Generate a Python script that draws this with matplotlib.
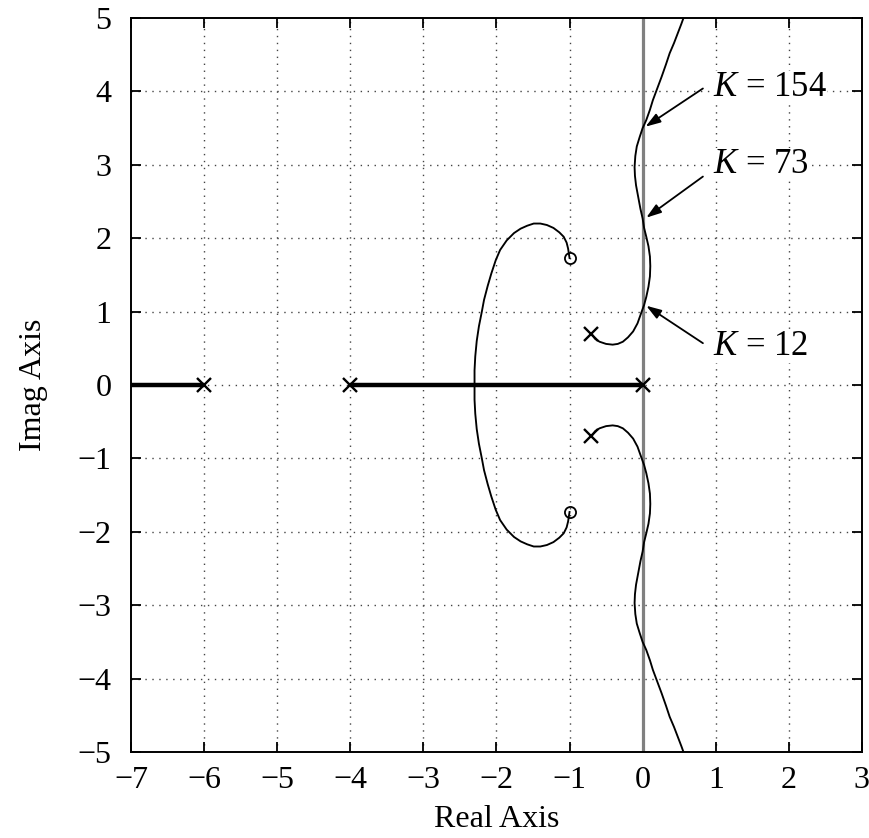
import matplotlib
matplotlib.use("Agg")
import matplotlib.pyplot as plt
import numpy as np

plt.rcParams['font.family'] = ['Liberation Serif', 'DejaVu Serif']
plt.rcParams['mathtext.fontset'] = 'custom'
plt.rcParams['mathtext.rm'] = 'Liberation Serif'
plt.rcParams['mathtext.it'] = 'Liberation Serif:italic'

# ---- data ----
pole_re = [0.0, -4.0, -6.0, -0.7, -0.7]
pole_im = [0.0, 0.0, 0.0, 0.70, -0.70]
zero_re = [-1.0, -1.0]
zero_im = [1.73, -1.73]

# real-axis locus segments
seg_left_re = [-7.0, -6.0]
seg_mid_re = [-4.0, 0.0]

# branch from real-axis breakaway to the zero (upper half)
loop_re = [-2.30, -2.30, -2.29, -2.27, -2.24, -2.20, -2.17, -2.12, -2.07, -2.01,
           -1.95, -1.86, -1.76, -1.67, -1.58, -1.49, -1.40, -1.31, -1.22, -1.14,
           -1.08, -1.04, -1.02, -1.00]
loop_im = [0.00, 0.20, 0.39, 0.60, 0.80, 1.00, 1.16, 1.35, 1.52, 1.70,
           1.84, 1.97, 2.07, 2.13, 2.17, 2.20, 2.20, 2.18, 2.14, 2.08,
           2.02, 1.94, 1.86, 1.73]

# branch from complex pole to asymptote (upper half)
branch_re = [-0.70, -0.65, -0.59, -0.50, -0.41, -0.34, -0.27, -0.20, -0.13, -0.07,
             -0.02, 0.02, 0.05, 0.08, 0.10, 0.105, 0.10, 0.08, 0.05, 0.02,
             0.00, -0.03, -0.06, -0.09, -0.105, -0.11, -0.10, -0.08, -0.04, 0.00,
             0.05, 0.10, 0.14, 0.20, 0.26, 0.32, 0.37, 0.43, 0.48, 0.53, 0.57]
branch_im = [0.70, 0.63, 0.59, 0.56, 0.55, 0.56, 0.59, 0.65, 0.73, 0.84,
             0.98, 1.09, 1.20, 1.34, 1.48, 1.62, 1.75, 1.89, 2.02, 2.14,
             2.27, 2.40, 2.56, 2.72, 2.85, 2.97, 3.12, 3.25, 3.38, 3.50,
             3.61, 3.75, 3.88, 4.04, 4.20, 4.37, 4.52, 4.66, 4.79, 4.92, 5.03]

gain_labels = ["$K$ = 154", "$K$ = 73", "$K$ = 12"]
gain_points_re = [0.04, 0.05, 0.05]
gain_points_im = [3.52, 2.28, 1.08]
gain_text_re = [0.96, 0.96, 0.96]
gain_text_im = [4.05, 3.00, 0.52]
gain_tail_re = [0.825, 0.825, 0.825]
gain_tail_im = [4.04, 2.84, 0.57]

xticks = [-7, -6, -5, -4, -3, -2, -1, 0, 1, 2, 3]
yticks = [-5, -4, -3, -2, -1, 0, 1, 2, 3, 4, 5]

# ---- figure ----
fig = plt.figure(figsize=(8.69, 8.38), dpi=100)
ax = fig.add_axes([0.1508, 0.1026, 0.841, 0.8759])

ax.set_xlim(-7, 3)
ax.set_ylim(-5, 5)
ax.set_xticks(xticks)
ax.set_yticks(yticks)

for v in xticks[1:-1]:
    ax.axvline(v, color='#444444', lw=1.0, dashes=(1, 4.0), zorder=1)
for v in yticks[1:-1]:
    ax.axhline(v, color='#444444', lw=1.0, dashes=(1, 4.0), zorder=1)

ax.axvline(0, color='#808080', lw=2.3, zorder=2)

lc = 'black'
ax.plot(seg_left_re, [0, 0], color=lc, lw=3.2, zorder=3, solid_capstyle='butt')
ax.plot(seg_mid_re, [0, 0], color=lc, lw=3.2, zorder=3, solid_capstyle='butt')

ax.plot(loop_re, loop_im, color=lc, lw=1.35, zorder=4)
ax.plot(loop_re, [-v for v in loop_im], color=lc, lw=1.35, zorder=4)
ax.plot(branch_re, branch_im, color=lc, lw=1.35, zorder=4)
ax.plot(branch_re, [-v for v in branch_im], color=lc, lw=1.35, zorder=4)

ax.plot(pole_re, pole_im, linestyle='none', marker='x', ms=10, mew=1.7,
        color=lc, zorder=5)
ax.plot(zero_re, zero_im, linestyle='none', marker='o', ms=8, mew=1.3,
        mfc='none', mec=lc, zorder=5)

for lab, px, py, tx, ty, ax_, ay_ in zip(gain_labels, gain_points_re, gain_points_im,
                                         gain_text_re, gain_text_im,
                                         gain_tail_re, gain_tail_im):
    ax.annotate('', xy=(px, py), xytext=(ax_, ay_),
                arrowprops=dict(arrowstyle='-|>,head_length=0.9,head_width=0.3',
                                color='black', lw=1.3, shrinkA=0, shrinkB=0),
                zorder=6)
    ax.text(tx, ty, lab, fontsize=25, ha='left', va='center', zorder=6,
            bbox=dict(facecolor='white', edgecolor='none', pad=0.0))

ax.tick_params(direction='in', length=7, width=1.3, top=True, right=True,
               labelsize=23, pad=10)
ax.tick_params(axis='y', pad=14)
for s in ax.spines.values():
    s.set_linewidth(1.4)

ax.set_xlabel('Real Axis', fontsize=23, labelpad=7)
ax.set_ylabel('Imag Axis', fontsize=23, labelpad=21)

fig.savefig('out.png', dpi=100)
